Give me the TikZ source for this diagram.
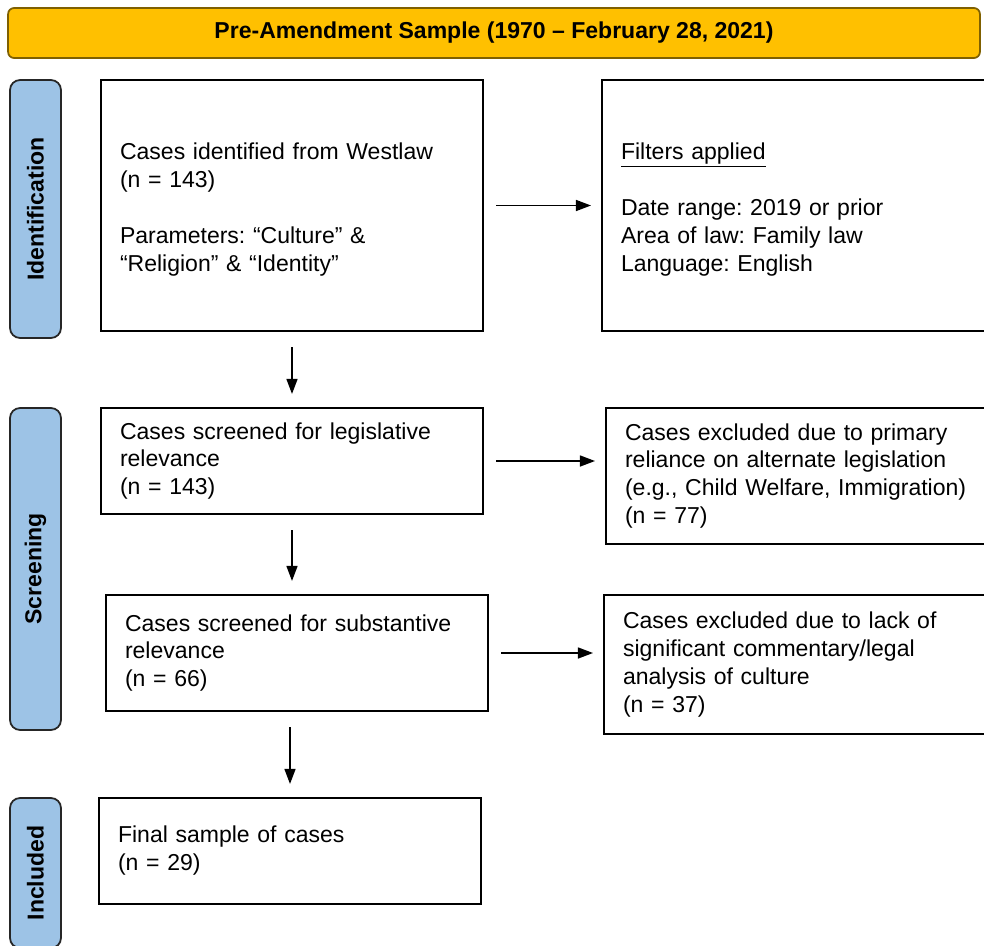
\documentclass[tikz,border=0pt]{standalone}
\usepackage{fontspec}
\setmainfont{Liberation Sans}
\usetikzlibrary{arrows.meta}
\frenchspacing

\definecolor{bannergold}{HTML}{FFC000}
\definecolor{bannerrim}{HTML}{7F6000}
\definecolor{stageblue}{HTML}{9DC3E6}

\tikzset{
  every node/.style={font=\fontsize{13.1}{15.9}\selectfont},
  banner/.style={draw=bannerrim, fill=bannergold, line width=1pt, rounded corners=0.12cm,
    minimum width=19.44cm, minimum height=1cm, font=\fontsize{13.1}{15.9}\selectfont\bfseries},
  stagebar/.style={draw=black!85, fill=stageblue, line width=1pt, rounded corners=0.2cm,
    rotate=90, minimum height=1.02cm, font=\fontsize{13.1}{15.9}\selectfont\bfseries},
  box/.style={draw=black, line width=1.2pt, align=left, inner xsep=0.38cm},
  leftbox/.style={box, text width=6.88cm},
  rightbox/.style={box, text width=7.72cm},
  arrowline/.style={line width=0.8pt, -{Triangle[length=0.3cm,width=0.22cm]},
    shorten <=0.24cm, shorten >=0.2cm},
  downline/.style={arrowline, shorten <=0.3cm, shorten >=0.26cm}
}

\begin{document}
\begin{tikzpicture}[x=0.02cm, y=-0.02cm]
  \useasboundingbox (0,0) rectangle (984,946);
  \clip (0,0) rectangle (984,946);

  % header
  \node[banner] (head) at (494,33) {Pre-Amendment Sample (1970 – February 28, 2021)};

  % stages on the left
  \node[stagebar, minimum width=5.16cm] (ident) at (35.5,209) {Identification};
  \node[stagebar, minimum width=6.44cm] (screen) at (35.5,569) {Screening};
  \node[stagebar, minimum width=3cm] (incl) at (35.5,873) {Included};

  % main column
  \node[leftbox, minimum height=5.02cm] (idbox) at (292,205.5)
    {\rule{0pt}{14pt}Cases identified from Westlaw\\(n = 143)\\[\baselineskip]Parameters: “Culture” \&\\“Religion” \& “Identity”};
  \node[leftbox, minimum height=2.12cm] (scr1) at (292,461)
    {Cases screened for legislative\\relevance\\(n = 143)};
  \node[leftbox, minimum height=2.32cm] (scr2) at (297,653)
    {Cases screened for substantive\\relevance\\(n = 66)};
  \node[leftbox, minimum height=2.12cm] (final) at (290,851)
    {Final sample of cases\\(n = 29)};

  % side column
  \node[rightbox, minimum height=5.02cm] (filt) at (814,205.5)
    {\rule{0pt}{14pt}\underline{Filters applied}\\[\baselineskip]Date range: 2019 or prior\\Area of law: Family law\\Language: English};
  \node[rightbox, minimum height=2.72cm] (excl1) at (818,476)
    {Cases excluded due to primary\\reliance on alternate legislation\\(e.g., Child Welfare, Immigration)\\(n = 77)};
  \node[rightbox, minimum height=2.78cm] (excl2) at (816,664.5)
    {Cases excluded due to lack of\\significant commentary/legal\\analysis of culture\\(n = 37)};

  % arrows
  \draw[arrowline] (idbox.east) -- (idbox.east -| filt.west);
  \draw[arrowline] (scr1.east) -- (scr1.east -| excl1.west);
  \draw[arrowline] (scr2.east) -- (scr2.east -| excl2.west);
  \draw[downline] (idbox.south) -- (scr1.north);
  \draw[downline] (scr1.south) -- (scr1.south |- scr2.north);
  \draw[downline] (final.north |- scr2.south) -- (final.north);
\end{tikzpicture}
\end{document}
